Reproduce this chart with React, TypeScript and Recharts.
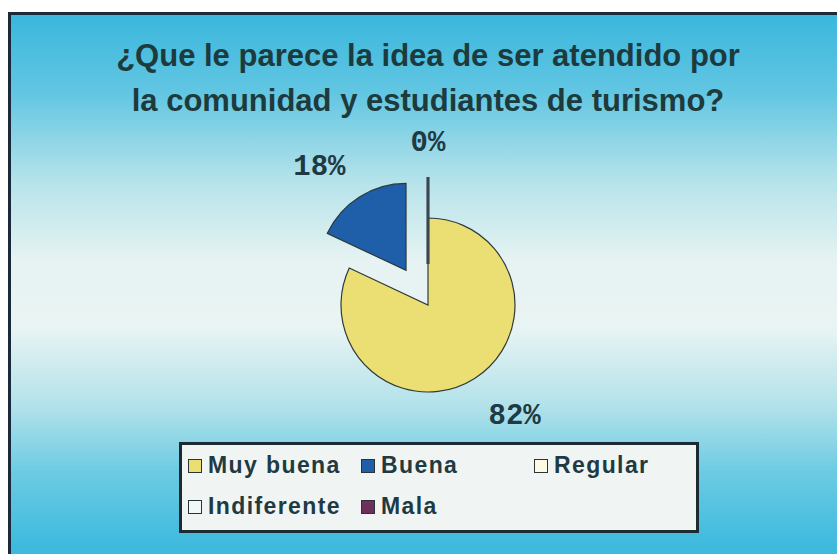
import { PieChart, Pie, Cell, Legend, Sector } from 'recharts'

const CATEGORIES = ['Muy buena', 'Buena', 'Regular', 'Indiferente', 'Mala']
const VALUES = [82, 18, 0, 0, 0]
const COLORS = ['#ebde72', '#1f5ea8', '#fdf9e2', '#f0f8f8', '#6e2f5a']
const EXPLODED = ['Buena', 'Regular', 'Indiferente', 'Mala']

const TITLE_LINES = [
  '¿Que le parece la idea de ser atendido por',
  'la comunidad y estudiantes de turismo?',
]

const data = CATEGORIES.map((name, i) => ({ name, value: VALUES[i] }))

const EXPLODE = 41
const RAD = Math.PI / 180

// offset a slice away from the centre along its bisector
function explodedCenter(p: any) {
  const name = p.payload?.name ?? p.name
  const off = EXPLODED.includes(name) ? EXPLODE : 0
  return {
    x: p.cx + off * Math.cos(-p.midAngle * RAD),
    y: p.cy + off * Math.sin(-p.midAngle * RAD),
  }
}

function ExplodedSector(props: any) {
  const { x, y } = explodedCenter(props)
  if (Math.abs(props.endAngle - props.startAngle) < 1e-6) {
    // zero-value slice: just the edge line
    const a = -props.startAngle * RAD
    return (
      <line
        x1={x}
        y1={y}
        x2={x + props.outerRadius * Math.cos(a)}
        y2={y + props.outerRadius * Math.sin(a)}
        stroke="#3a4752"
        strokeWidth={2.5}
      />
    )
  }
  return <Sector {...props} cx={x} cy={y} />
}

function renderLabel(p: any) {
  const { index, outerRadius, midAngle, percent } = p
  if (VALUES[index] === 0 && index > 0 && VALUES[index - 1] === 0) return null
  const { x, y } = explodedCenter(p)
  const ux = Math.cos(-midAngle * RAD)
  const uy = Math.sin(-midAngle * RAD)
  const r = outerRadius + 26
  const ax = x + ux * r
  const ay = y + uy * r
  const anchor = Math.abs(ux) < 0.2 ? 'middle' : ux > 0 ? 'start' : 'end'
  return (
    <text
      x={ax}
      y={uy > 0 ? ay + 24 : ay}
      textAnchor={anchor}
      fill="#1f3a42"
      fontFamily="'Liberation Mono', 'DejaVu Sans Mono', monospace"
      fontWeight="bold"
      fontSize={29}
    >
      {`${Math.round(percent * 100)}%`}
    </text>
  )
}

function LegendBox() {
  return (
    <div
      style={{
        boxSizing: 'border-box',
        width: 520,
        height: 91,
        border: '3px solid #1c2b32',
        background: '#f0f5f3',
        padding: '0 0 0 6px',
        display: 'grid',
        gridTemplateColumns: '173px 173px 168px',
        gridAutoRows: 41,
        fontFamily: "'Liberation Sans', Arial, sans-serif",
        fontWeight: 'bold',
        fontSize: 23,
        letterSpacing: 1.4,
        color: '#1f3a42',
      }}
    >
      {CATEGORIES.map((name, i) => (
        <div key={name} style={{ display: 'flex', alignItems: 'center', whiteSpace: 'nowrap' }}>
          <span
            style={{
              display: 'inline-block',
              width: 12,
              height: 12,
              background: COLORS[i],
              border: '1.5px solid #2a3438',
              marginRight: 6,
            }}
          />
          {name}
        </div>
      ))}
    </div>
  )
}

export default function App() {
  return (
    <div
      style={{
        position: 'absolute',
        left: 0,
        top: 0,
        width: 837,
        height: 554,
        overflow: 'hidden',
        background: '#ffffff',
      }}
    >
      <div
        style={{
          position: 'absolute',
          left: 8,
          top: 12,
          width: 850,
          height: 560,
          boxSizing: 'border-box',
          borderLeft: '3px solid #1b2a3a',
          borderTop: '3px solid #1b2a3a',
          background:
            'linear-gradient(to bottom, #3ab7dd 0%, #62c6e2 14%, #b6e3ea 30%, #e6f3f2 44%, #e9f4f3 56%, #b3e2ea 70%, #6ccbe3 82%, #3fbade 95%, #3ab7dd 100%)',
        }}
      />
      <div
        style={{
          position: 'absolute',
          left: 8,
          top: 33,
          width: 840,
          textAlign: 'center',
          fontFamily: "'Liberation Sans', Arial, sans-serif",
          fontWeight: 'bold',
          fontSize: 31,
          lineHeight: '45px',
          color: '#1d3b3c',
        }}
      >
        {TITLE_LINES.map((l) => (
          <div key={l}>{l}</div>
        ))}
      </div>
      <div style={{ position: 'absolute', left: 0, top: 0 }}>
        <PieChart width={837} height={554} margin={{ top: 0, right: 0, bottom: 0, left: 0 }}>
          <Pie
            data={data}
            dataKey="value"
            nameKey="name"
            cx={428}
            cy={305}
            outerRadius={87}
            startAngle={90}
            endAngle={-270}
            stroke="#2e3a3c"
            strokeWidth={1.2}
            shape={ExplodedSector}
            label={renderLabel}
            labelLine={false}
            isAnimationActive={false}
          >
            {data.map((d, i) => (
              <Cell key={d.name} fill={COLORS[i]} />
            ))}
          </Pie>
          <Legend
            content={<LegendBox />}
            wrapperStyle={{ left: 179, top: 442, width: 520, height: 91, bottom: 'auto' }}
          />
        </PieChart>
      </div>
    </div>
  )
}
